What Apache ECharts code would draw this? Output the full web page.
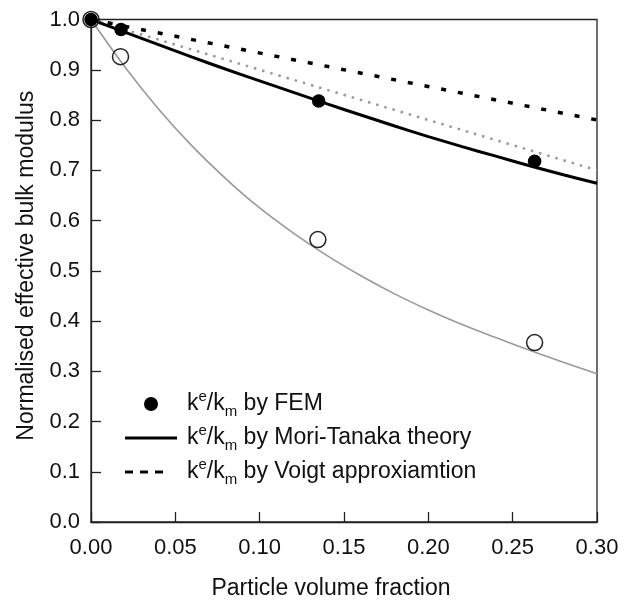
<!DOCTYPE html>
<html>
<head>
<meta charset="utf-8">
<script src="https://cdn.jsdelivr.net/npm/echarts@6/dist/echarts.min.js"></script>
<style>
html,body{margin:0;padding:0;background:#fff;}
#chart{width:635px;height:605px;}
</style>
</head>
<body>
<div id="chart"></div>
<script>
// Data
const xGrid = [0, 0.02, 0.04, 0.06, 0.08, 0.10, 0.12, 0.14, 0.16, 0.18, 0.20, 0.22, 0.24, 0.26, 0.28, 0.30];
const moriTanaka = [1.0, 0.975, 0.950, 0.925, 0.901, 0.878, 0.855, 0.832, 0.810, 0.788, 0.767, 0.747, 0.728, 0.709, 0.691, 0.674];
const grayCurve = [1.0, 0.906, 0.822, 0.748, 0.683, 0.625, 0.575, 0.530, 0.490, 0.454, 0.422, 0.393, 0.367, 0.342, 0.318, 0.295];
const voigtX = [0, 0.30];
const voigtY = [1.0, 0.80];
const grayLineX = [0, 0.30];
const grayLineY = [1.0, 0.70];
const femX = [0, 0.0178, 0.1350, 0.2630];
const femY = [1.0, 0.980, 0.838, 0.718];
const openX = [0, 0.0175, 0.1345, 0.2630];
const openY = [1.0, 0.926, 0.562, 0.357];

const xLabel = 'Particle volume fraction';
const yLabel = 'Normalised effective bulk modulus';
const legendNames = ['FEM', 'Mori-Tanaka', 'Voigt'];
const legendTexts = {
  'FEM': 'k{sup|e}/k{sub|m} by FEM',
  'Mori-Tanaka': 'k{sup|e}/k{sub|m} by Mori-Tanaka theory',
  'Voigt': 'k{sup|e}/k{sub|m} by Voigt approxiamtion'
};

const zip = (xs, ys) => xs.map((x, i) => [x, ys[i]]);

const chart = echarts.init(document.getElementById('chart'), null, {renderer: 'canvas'});
const font = 'Liberation Sans, Arial, Helvetica, sans-serif';
const option = {
  backgroundColor: '#fff',
  animation: false,
  textStyle: {fontFamily: font},
  grid: {left: 91, right: 38, top: 19.5, bottom: 82, show: true, borderColor: '#222', borderWidth: 1.3, backgroundColor: 'transparent'},
  xAxis: {
    type: 'value', min: 0, max: 0.3, interval: 0.05,
    name: xLabel, nameLocation: 'middle', nameGap: 55,
    nameTextStyle: {fontSize: 23, color: '#111', fontFamily: font, padding: [0, 26, 0, 0]},
    axisLine: {show: true, onZero: false, lineStyle: {color: '#222', width: 1.3}},
    axisTick: {show: true, inside: true, length: 10, lineStyle: {color: '#222', width: 1.3}},
    axisLabel: {fontSize: 22, color: '#111', margin: 15, fontFamily: font, formatter: v => v.toFixed(2)},
    splitLine: {show: false}
  },
  yAxis: {
    type: 'value', min: 0, max: 1, interval: 0.1,
    name: yLabel, nameLocation: 'middle', nameGap: 53, nameRotate: 90,
    nameTextStyle: {fontSize: 23, color: '#111', fontFamily: font, padding: [0, 0, 0, 10]},
    axisLine: {show: true, onZero: false, lineStyle: {color: '#222', width: 1.3}},
    axisTick: {show: true, inside: true, length: 10, lineStyle: {color: '#222', width: 1.3}},
    axisLabel: {fontSize: 22, color: '#111', margin: 11, fontFamily: font, formatter: v => v.toFixed(1)},
    splitLine: {show: false}
  },
  legend: {
    data: [
      {name: 'FEM', icon: 'circle'},
      {name: 'Mori-Tanaka', icon: 'path://M0 0H52V3H0Z'},
      {name: 'Voigt', icon: 'path://M0 0H8V3H0Z M15 0H23V3H15Z M30 0H38V3H30Z M52 0'}
    ],
    orient: 'vertical',
    left: 125, top: 389,
    padding: 0,
    itemWidth: 52, itemHeight: 14, itemGap: 4,
    itemStyle: {color: '#000', borderWidth: 0},
    formatter: name => legendTexts[name],
    textStyle: {
      fontSize: 23, color: '#111', fontFamily: font, lineHeight: 30, padding: [0, 0, 0, 5],
      rich: {
        sup: {fontSize: 15, verticalAlign: 'top', lineHeight: 30, color: '#111', fontFamily: font},
        sub: {fontSize: 15, verticalAlign: 'bottom', lineHeight: 30, color: '#111', fontFamily: font}
      }
    }
  },
  series: [
    {
      name: 'Voigt', type: 'line', data: zip(voigtX, voigtY), symbol: 'none', clip: false,
      lineStyle: {color: '#000', width: 3.5, type: [5, 12]},
      itemStyle: {color: '#000'}, z: 3
    },
    {
      name: 'grayLinear', type: 'line', data: zip(grayLineX, grayLineY), symbol: 'none', clip: false,
      lineStyle: {color: '#999', width: 2.5, type: [2.5, 6]}, z: 2
    },
    {
      name: 'grayCurve', type: 'line', data: zip(xGrid, grayCurve), symbol: 'none', smooth: 0.3, clip: false,
      lineStyle: {color: '#9a9a9a', width: 1.6}, z: 2
    },
    {
      name: 'Mori-Tanaka', type: 'line', data: zip(xGrid, moriTanaka), symbol: 'none', smooth: 0.3, clip: false,
      lineStyle: {color: '#000', width: 3},
      itemStyle: {color: '#000'}, z: 4
    },
    {
      name: 'FEM', type: 'scatter', data: zip(femX, femY), symbol: 'circle', symbolSize: 13.5, clip: false,
      itemStyle: {color: '#000', opacity: 1}, z: 6
    },
    {
      name: 'open', type: 'scatter', data: zip(openX, openY), symbol: 'circle', symbolSize: 16, clip: false,
      itemStyle: {color: 'transparent', borderColor: '#222', borderWidth: 1.5, opacity: 1}, z: 5
    }
  ]
};
chart.setOption(option);
</script>
</body>
</html>
